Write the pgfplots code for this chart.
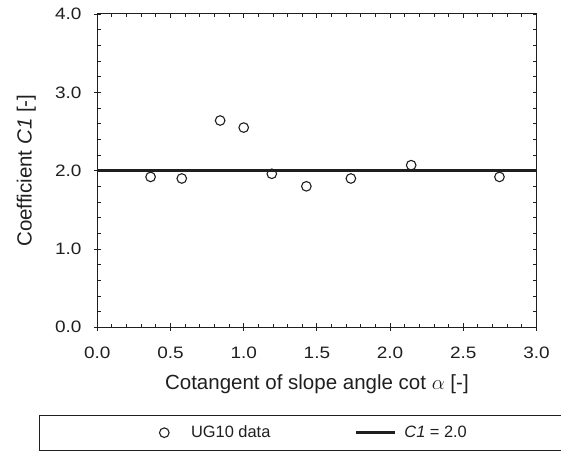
\documentclass[border=0pt]{standalone}
\usepackage{pgfplots}
\pgfplotsset{compat=1.18}
\usepackage{fontspec}
\setmainfont{Liberation Sans}
\newfontfamily\numfont[FakeStretch=1.15]{Liberation Sans}
\definecolor{ink}{gray}{0.12}

% C1 values per slope (cot alpha)
\pgfplotstableread{
cot   C1
0.364 1.92
0.577 1.90
0.839 2.64
1.000 2.55
1.192 1.96
1.428 1.80
1.732 1.90
2.144 2.07
2.747 1.92
}\ugdata

\pgfplotsset{
  frame/.style={
    at={(97.3bp,123.7bp)}, anchor=south west,
    width=439.2bp, height=313.3bp, scale only axis,
    xmin=0, xmax=3, ymin=0, ymax=4,
    xtick distance=0.5, ytick distance=1,
    every tick/.style={ink, line width=0.9bp},
  }
}

\begin{document}
\begin{tikzpicture}
\path[use as bounding box] (0,0) rectangle (561bp,451bp);

% outward stubs of the major ticks (bottom and left only)
\begin{axis}[frame,
  tick align=outside, major tick length=3.5bp,
  xtick pos=left, ytick pos=left,
  xticklabels={}, yticklabels={},
  axis line style={draw=none},
]
\end{axis}

\begin{axis}[frame,
  minor x tick num=4, minor y tick num=4,
  tick align=inside,
  major tick length=4bp, minor tick length=3.3bp,
  axis line style={ink, line width=1bp},
  /pgf/number format/assume math mode=true,
  ticklabel style={font=\numfont\fontsize{16.5bp}{18bp}\selectfont, text=ink, inner sep=0pt,
    /pgf/number format/fixed, /pgf/number format/fixed zerofill, /pgf/number format/precision=1},
  xticklabel style={anchor=base, yshift=-31bp},
  yticklabel style={anchor=east, xshift=-15.6bp},
  xlabel={Cotangent of slope angle cot $\alpha$ [-]},
  ylabel={Coefficient \textit{C1} [-]},
  label style={font=\fontsize{20.5bp}{24bp}\selectfont, text=ink},
  xlabel style={at={(axis description cs:0.5,-0.19789)}, anchor=base},
  ylabel style={at={(axis description cs:-0.14936,0.5)}, anchor=base},
  legend columns=2,
  legend style={at={(axis description cs:-0.13365,-0.39323)}, anchor=south west,
    draw=ink, line width=1bp, inner xsep=120.4bp, inner ysep=10.3bp,
    font=\fontsize{16.4bp}{18bp}\selectfont, text=ink,
    nodes={inner sep=0pt, text height=12bp, text depth=2bp},
    column sep=0pt,
    /tikz/column 1/.style={column sep=22bp},
    /tikz/column 2/.style={column sep=84bp},
    /tikz/column 3/.style={column sep=8bp}},
]
\addplot[only marks, mark=o, mark size=4.8bp, ink, line width=1.1bp,
  legend image code/.code={\draw[mark repeat=2, mark phase=2] plot coordinates {(0bp,0bp) (5bp,0bp) (10bp,0bp)};}]
  table[x=cot, y=C1] {\ugdata};
\addlegendentry{UG10 data}
\addplot[ink, line width=3bp,
  legend image code/.code={\draw (0bp,0bp) -- (39bp,0bp);}]
  coordinates {(0,2) (3,2)};
\addlegendentry{\textit{C1} = 2.0}
\end{axis}
\end{tikzpicture}
\end{document}
